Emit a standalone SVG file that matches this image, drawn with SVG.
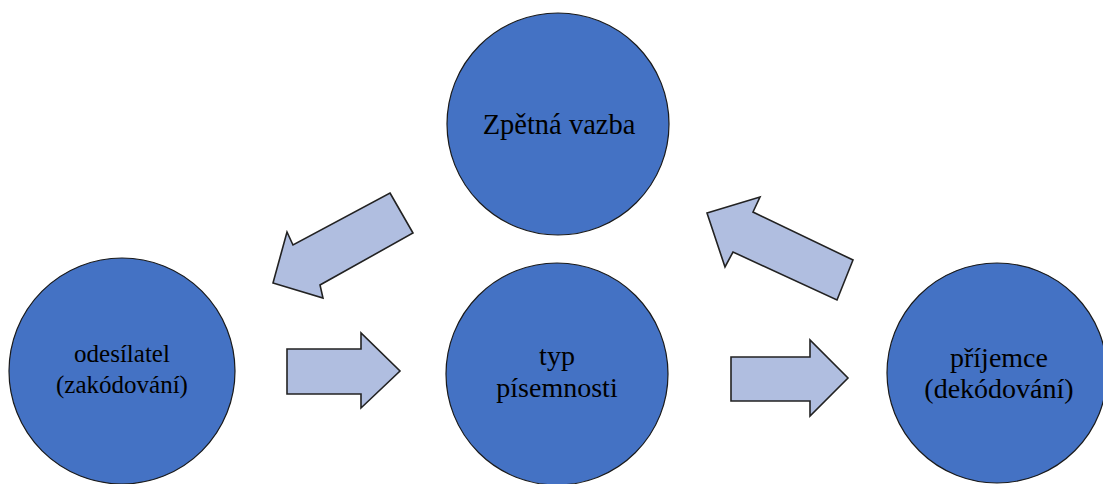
<svg xmlns="http://www.w3.org/2000/svg" width="1103" height="484" viewBox="0 0 1103 484">
  <style>
    .node { fill: #4472C4; stroke: #1a1a1a; stroke-width: 1.2; }
    .arrow { fill: #B0BEE0; stroke: #222; stroke-width: 1.6; stroke-linejoin: miter; }
    .label { fill: #000; text-anchor: middle; }
  </style>
  <rect width="1103" height="484" fill="#ffffff"/>

  <g id="connectors">
    <polygon class="arrow" points="390,193 413,233 320,285 323,298 273,283 287,232 293,245"/>
    <polygon class="arrow" points="707,213 760,197 753,212 853,260 837,300 733,252 725,267"/>
    <polygon class="arrow" points="287,349 361,349 361,333 400,371 361,408 361,394 287,394"/>
    <polygon class="arrow" points="731,357 810,357 810,340 848,378 810,416 810,401 731,401"/>
  </g>

  <g font-family="'Liberation Serif', 'DejaVu Serif', serif">
    <g id="zpetna-vazba">
      <circle class="node" cx="558" cy="124" r="111"/>
      <text class="label" x="559" y="134" font-size="28.5">Zpětná vazba</text>
    </g>

    <g id="odesilatel">
      <circle class="node" cx="122" cy="371" r="113"/>
      <text class="label" x="122" y="362" font-size="25">odesílatel</text>
      <text class="label" x="122" y="393" font-size="25">(zakódování)</text>
    </g>

    <g id="typ-pisemnosti">
      <circle class="node" cx="557" cy="374" r="111"/>
      <text class="label" x="557" y="365" font-size="28">typ</text>
      <text class="label" x="557" y="397" font-size="28">písemnosti</text>
    </g>

    <g id="prijemce">
      <circle class="node" cx="997" cy="373" r="110"/>
      <text class="label" x="999" y="367" font-size="28">příjemce</text>
      <text class="label" x="999" y="398" font-size="28">(dekódování)</text>
    </g>
  </g>
</svg>
